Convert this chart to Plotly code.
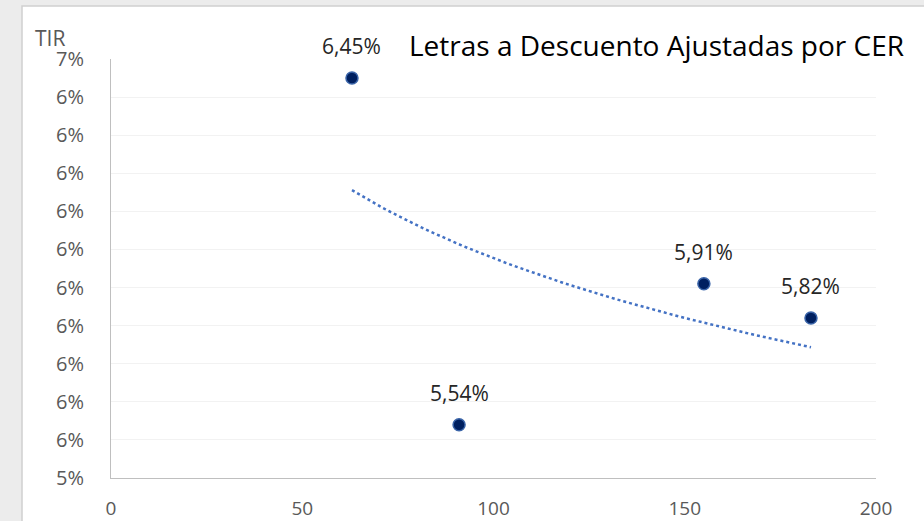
import numpy as np
import plotly.graph_objects as go

# Data (days to maturity, TIR %)
dias = [63, 91, 155, 183]
tir = [6.45, 5.54, 5.91, 5.82]

y_tick_vals = [5.4, 5.5, 5.6, 5.7, 5.8, 5.9, 6.0, 6.1, 6.2, 6.3, 6.4, 6.5]
y_tick_labels = ["5%", "6%", "6%", "6%", "6%", "6%", "6%", "6%", "6%", "6%", "6%", "7%"]
x_tick_vals = [0, 50, 100, 150, 200]
x_tick_labels = ["0", "50", "100", "150", "200"]

# Logarithmic trendline (least squares fit on ln(x))
lx = np.log(dias)
b, a = np.polyfit(lx, tir, 1)
tx = np.linspace(min(dias), max(dias), 60)
ty = a + b * np.log(tx)

FONT = "Open Sans"
L, R, T, B = 111, 48, 59, 43
PW, PH = 924 - L - R, 521 - T - B

def px(x):
    return (x - L) / PW

def py(y):
    return (521 - B - y) / PH

fig = go.Figure()
fig.add_trace(go.Scatter(
    x=tx, y=ty, mode="lines",
    line=dict(color="#4472C4", width=2.5, dash="dot"),
    hoverinfo="skip", showlegend=False,
))
fig.add_trace(go.Scatter(
    x=dias, y=tir, mode="markers",
    marker=dict(size=12, color="#002060", line=dict(color="#3A64A8", width=1.5)),
    showlegend=False,
))

for xv, yv in zip(dias, tir):
    fig.add_annotation(
        x=xv, y=yv, text=f"{yv:.2f}%".replace(".", ","),
        showarrow=False, yshift=32,
        font=dict(family=FONT, size=21, color="#262626"),
    )

# white chart area over gray background
fig.add_shape(type="rect", xref="paper", yref="paper",
              x0=px(22), x1=px(930), y0=py(530), y1=py(6),
              fillcolor="white", line=dict(color="#d0d0d0", width=1.5),
              layer="below")

fig.add_annotation(xref="paper", yref="paper", x=px(906), y=py(45),
                   xanchor="right", yanchor="middle",
                   text="Letras a Descuento Ajustadas por CER", showarrow=False,
                   font=dict(family=FONT, size=28, color="#000000"))
fig.add_annotation(xref="paper", yref="paper", x=px(33), y=py(38),
                   xanchor="left", yanchor="middle",
                   text="TIR", showarrow=False,
                   font=dict(family=FONT, size=21, color="#595959"))

fig.update_layout(
    width=924, height=521,
    margin=dict(l=L, r=R, t=T, b=B, pad=0),
    paper_bgcolor="#ececec",
    plot_bgcolor="white",
    font=dict(family=FONT, size=20, color="#595959"),
    xaxis=dict(range=[0, 200], tickvals=x_tick_vals, ticktext=x_tick_labels,
               showgrid=False, zeroline=False, showline=True,
               linecolor="#bfbfbf", linewidth=1, ticks="",
               tickfont=dict(size=19), automargin=False,
               ticklabelstandoff=13),
    yaxis=dict(range=[5.4, 6.5], tickvals=y_tick_vals, ticktext=y_tick_labels,
               showgrid=True, gridcolor="#f2f2f2", gridwidth=1,
               zeroline=False, showline=True, linecolor="#bfbfbf", linewidth=1,
               ticks="", tickfont=dict(size=20), automargin=False,
               ticklabelstandoff=22),
)

fig.write_html(
    "out.html",
    config={"displayModeBar": False},
    post_script="document.body.style.margin='0px';document.body.style.background='#ececec';",
)
